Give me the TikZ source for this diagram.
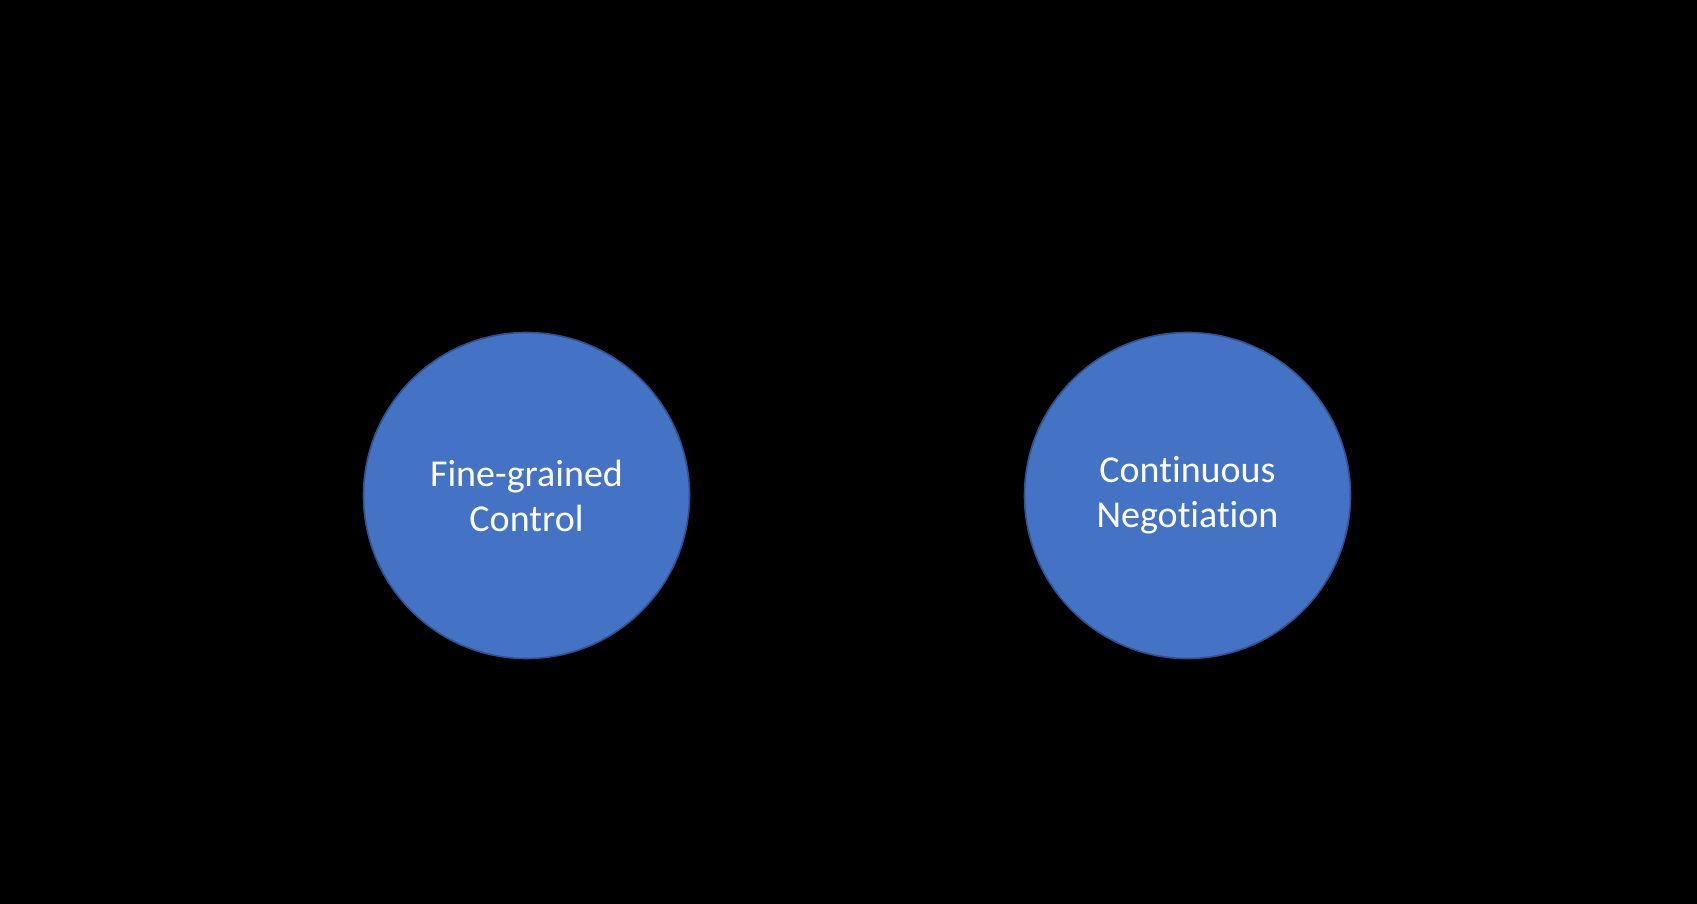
\documentclass[tikz,border=0pt]{standalone}
\usepackage{fontspec}
\setmainfont{Carlito}[Ligatures=NoCommon]
\definecolor{circfill}{HTML}{4472C4}
\definecolor{circline}{HTML}{2F528F}
\begin{document}
\begin{tikzpicture}[x=1pt,y=-1pt,
  bubble/.style={circle, fill=circfill, draw=circline, line width=1.6pt,
    minimum size=326pt, inner sep=0pt, align=center, text=white,
    font=\fontsize{38}{45}\selectfont}]
\fill[black] (0,0) rectangle (1697,904);
\useasboundingbox (0,0) rectangle (1697,904);
\node[bubble] (fine) at (526.5,495.5) {Fine-grained\\Control};
\node[bubble] (cont) at (1187.5,495.5) {Continuous\\Negotiation};
\end{tikzpicture}
\end{document}
